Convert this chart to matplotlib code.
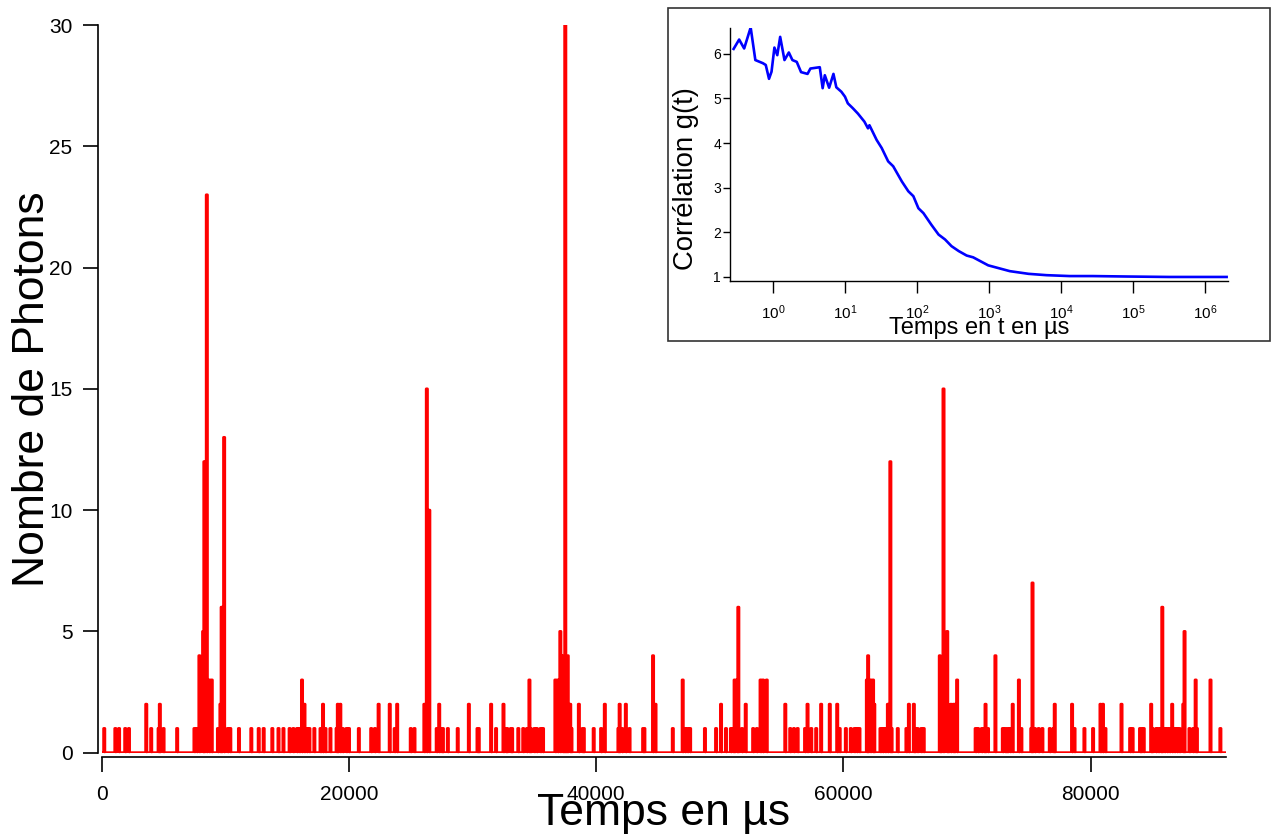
import numpy as np
import matplotlib
matplotlib.use('Agg')
import matplotlib.pyplot as plt
from matplotlib.patches import Rectangle
from matplotlib.ticker import NullLocator

plt.rcParams['font.family'] = ['Liberation Sans', 'DejaVu Sans']
plt.rcParams['mathtext.default'] = 'regular'

# photon counts per 100 us bin (only non-empty bins listed), time = bin centre in us
spike_times = [
    200, 1100, 1400, 1900, 2200, 3600, 4000, 4600, 4700, 5000, 6100,
    7500, 7700, 7900, 8200, 8300, 8500, 8700, 8900, 9400, 9600, 9700, 9900,
    10200, 10400, 11100, 12100, 12700, 13100, 13800, 14300, 14700,
    15200, 15500, 15800, 16000, 16200, 16400, 16600, 16800, 17200, 17700,
    17900, 18100, 18500, 19000, 19100, 19300, 19500, 19800, 20000, 20800,
    21800, 22100, 22400, 23300, 23700, 23900, 25000, 25300, 26100, 26300,
    26500, 27100, 27300, 27500, 27600, 28000, 28800, 29700, 30400, 30500,
    31500, 31900, 32500, 32700, 32800, 33100, 33200, 33700, 34100, 34400,
    34600, 34700, 35000, 35200, 35500, 35700, 36700, 36900, 37100, 37300,
    37400, 37500, 37600, 37700, 37900, 38000, 38600, 38900, 39000, 39800,
    40400, 40700, 41800, 41900, 42100, 42400, 42700, 43800, 43900, 44600,
    44800, 46200, 47000, 47200, 47400, 47600, 48800, 49700, 50100, 50500,
    50900, 51100, 51200, 51400, 51500, 51800, 52100, 52700, 53000, 53300,
    53500, 53800, 55300, 55700, 56000, 56300, 56900, 57100, 57400, 57800,
    58200, 58900, 59500, 59700, 60200, 60600, 60900, 61100, 61300, 61900,
    62000, 62200, 62400, 62500, 63000, 63200, 63400, 63600, 63800, 63900,
    64400, 65100, 65300, 65700, 65800, 66000, 66300, 66500, 67800, 67900,
    68100, 68400, 68500, 68700, 68900, 69000, 69200, 70700, 70900, 71200,
    71400, 71500, 71700, 72300, 72900, 73100, 73200, 73300, 73500, 73700,
    74200, 74400, 75200, 75300, 75500, 75800, 76100, 76700, 77000, 77100,
    78500, 78700, 79500, 80200, 80800, 81000, 81200, 82500, 83200, 83400,
    84000, 84100, 84300, 84900, 85000, 85300, 85500, 85700, 85800, 86000,
    86200, 86400, 86600, 86800, 87000, 87200, 87500, 87600, 88000, 88300,
    88500, 88600, 89700, 90500,
]
spike_counts = [
    1, 1, 1, 1, 1, 2, 1, 1, 2, 1, 1,
    1, 1, 4, 5, 12, 23, 3, 3, 1, 2, 6, 13,
    1, 1, 1, 1, 1, 1, 1, 1, 1,
    1, 1, 1, 1, 3, 2, 1, 1, 1, 1,
    2, 1, 1, 1, 2, 2, 1, 1, 1, 1,
    1, 1, 2, 2, 1, 2, 1, 1, 2, 15,
    10, 1, 2, 1, 1, 1, 1, 2, 1, 1,
    2, 1, 2, 1, 1, 1, 1, 1, 1, 1,
    3, 1, 1, 1, 1, 1, 3, 3, 5, 4,
    4, 30, 4, 4, 2, 1, 2, 1, 1, 1,
    1, 2, 1, 2, 1, 2, 1, 1, 1, 4,
    2, 1, 3, 1, 1, 1, 1, 1, 2, 1,
    1, 1, 3, 3, 6, 1, 2, 1, 1, 3,
    3, 3, 2, 1, 1, 1, 1, 2, 1, 1,
    2, 2, 2, 1, 1, 1, 1, 1, 1, 3,
    4, 3, 3, 2, 1, 1, 1, 2, 12, 1,
    1, 1, 2, 2, 1, 1, 1, 1, 4, 2,
    15, 5, 1, 2, 2, 2, 3, 1, 1, 1,
    1, 2, 1, 4, 1, 1, 1, 1, 1, 2,
    3, 1, 1, 7, 1, 1, 1, 1, 1, 2,
    2, 1, 1, 1, 2, 2, 1, 2, 1, 1,
    1, 1, 1, 2, 1, 1, 1, 1, 6, 1,
    1, 1, 2, 1, 1, 1, 2, 5, 1, 1,
    3, 1, 3, 1,
]
bin_width = 100
t_max = 90950

x_ticks = [0, 20000, 40000, 60000, 80000]
x_ticklabels = ['0', '20000', '40000', '60000', '80000']
y_ticks = [0, 5, 10, 15, 20, 25, 30]

# correlation curve (inset)
corr_t = [0.284, 0.339, 0.398, 0.490, 0.569, 0.724, 0.794, 0.881, 0.955, 1.047,
          1.148, 1.259, 1.445, 1.660, 1.862, 2.138, 2.455, 3.020, 3.311, 4.467,
          4.898, 5.248, 6.026, 6.918, 7.586, 8.913, 10.0, 10.96, 12.88, 15.14,
          18.62, 20.89, 21.88, 27.54, 32.36, 39.81, 46.77, 61.66, 75.86, 89.13,
          104.7, 123.0, 158.5, 199.5, 245.5, 302.0, 380.0, 490.0, 603.0, 977.0,
          1950, 3550, 6310, 13200, 27500, 81300, 316000, 2.0e6]
corr_g = [6.11, 6.32, 6.12, 6.59, 5.86, 5.79, 5.75, 5.44, 5.60, 6.14,
          5.97, 6.38, 5.86, 6.03, 5.86, 5.82, 5.59, 5.55, 5.67, 5.70,
          5.23, 5.52, 5.24, 5.55, 5.25, 5.15, 5.04, 4.89, 4.78, 4.66,
          4.48, 4.33, 4.40, 4.07, 3.89, 3.59, 3.48, 3.14, 2.92, 2.81,
          2.54, 2.43, 2.17, 1.95, 1.84, 1.69, 1.58, 1.48, 1.44, 1.26,
          1.13, 1.07, 1.04, 1.02, 1.02, 1.01, 1.0, 1.0]
corr_xticks = [1, 10, 100, 1e3, 1e4, 1e5, 1e6]
corr_yticks = [1, 2, 3, 4, 5, 6]

# build the binned trace
n_bins = int(np.ceil(t_max / bin_width)) + 1
counts = np.zeros(n_bins)
idx = np.round(np.array(spike_times) / bin_width).astype(int)
counts[idx] = spike_counts
t_bins = np.arange(n_bins) * bin_width

fig = plt.figure(figsize=(12.72, 8.34), dpi=100)

ax = fig.add_axes([0.0800, 0.0975, 0.8838, 0.8725])
ax.fill_between(t_bins, counts, step='mid', color='#ff0000', lw=0)
ax.plot(t_bins, counts, drawstyle='steps-mid', color='#ff0000', lw=2.0)
ax.set_xlim(0, t_max)
ax.set_ylim(0, 30)
for s in ['top', 'right']:
    ax.spines[s].set_visible(False)
for s in ['left', 'bottom']:
    ax.spines[s].set_position(('outward', 3))
    ax.spines[s].set_linewidth(1.2)
ax.set_xticks(x_ticks)
ax.set_xticklabels(x_ticklabels)
ax.set_yticks(y_ticks)
ax.tick_params(direction='out', length=11, width=1.2, labelsize=15, pad=7)
ax.tick_params(axis='x', pad=9)
ax.set_xlabel('Temps en µs', fontsize=32)
ax.set_ylabel('Nombre de Photons', fontsize=32)
ax.xaxis.set_label_coords(0.5, -0.056)
ax.yaxis.set_label_coords(-0.043, 0.5)

# inset frame
fig.patches.append(Rectangle((0.5252, 0.5911), 0.4733, 0.3993, transform=fig.transFigure,
                             fill=False, edgecolor='#333333', lw=1.2, zorder=5))

ax2 = fig.add_axes([0.5739, 0.6631, 0.3915, 0.3034])
ax2.semilogx(corr_t, corr_g, color='#0000ff', lw=1.9)
ax2.set_xlim(0.253, 2.09e6)
ax2.set_ylim(0.91, 6.58)
for s in ['top', 'right']:
    ax2.spines[s].set_visible(False)
ax2.spines['left'].set_linewidth(1.0)
ax2.spines['bottom'].set_linewidth(1.0)
ax2.set_xticks(corr_xticks)
ax2.xaxis.set_minor_locator(NullLocator())
ax2.set_yticks(corr_yticks)
ax2.tick_params(axis='x', direction='out', length=8.5, width=1.0, labelsize=11, pad=7.5)
ax2.tick_params(axis='y', direction='out', length=5, width=1.0, labelsize=10, pad=1.5)
ax2.set_xlabel('Temps en t en µs', fontsize=17)
ax2.set_ylabel('Corrélation g(t)', fontsize=19.8)
ax2.xaxis.set_label_coords(0.5, -0.142)
ax2.yaxis.set_label_coords(-0.063, 0.403)

fig.savefig('out.png', dpi=100)
